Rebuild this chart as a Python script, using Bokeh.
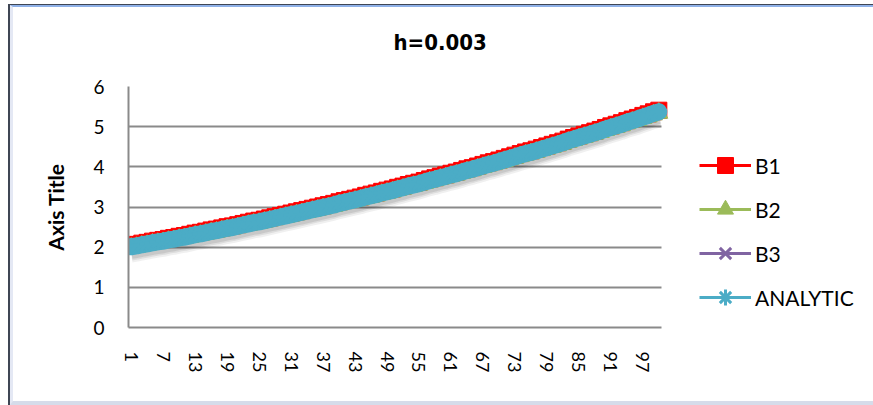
from bokeh.plotting import figure
from bokeh.models import (FixedTicker, Legend, LegendItem, ColumnDataSource,
                          InlineStyleSheet, Title)
from bokeh.transform import dodge
from bokeh.embed import file_html
from bokeh.resources import INLINE

# ---- data -------------------------------------------------------------
steps = list(range(1, 101))

analytic = [
    2.01, 2.03, 2.06, 2.08, 2.11, 2.13, 2.15, 2.18, 2.20, 2.23,
    2.25, 2.28, 2.31, 2.33, 2.36, 2.39, 2.41, 2.44, 2.47, 2.49,
    2.52, 2.55, 2.58, 2.61, 2.63, 2.66, 2.69, 2.72, 2.75, 2.78,
    2.81, 2.84, 2.87, 2.90, 2.93, 2.96, 2.99, 3.02, 3.05, 3.09,
    3.12, 3.15, 3.18, 3.21, 3.25, 3.28, 3.31, 3.35, 3.38, 3.41,
    3.45, 3.48, 3.52, 3.55, 3.58, 3.62, 3.66, 3.69, 3.73, 3.76,
    3.80, 3.83, 3.87, 3.91, 3.94, 3.98, 4.02, 4.06, 4.09, 4.13,
    4.17, 4.21, 4.25, 4.29, 4.33, 4.36, 4.40, 4.44, 4.48, 4.52,
    4.56, 4.60, 4.65, 4.69, 4.73, 4.77, 4.81, 4.85, 4.89, 4.94,
    4.98, 5.02, 5.06, 5.11, 5.15, 5.19, 5.24, 5.28, 5.33, 5.37,
]

b1 = [
    2.05, 2.07, 2.10, 2.12, 2.15, 2.17, 2.19, 2.22, 2.24, 2.27,
    2.29, 2.32, 2.35, 2.37, 2.40, 2.43, 2.45, 2.48, 2.51, 2.53,
    2.56, 2.59, 2.62, 2.65, 2.67, 2.70, 2.73, 2.76, 2.79, 2.82,
    2.85, 2.88, 2.91, 2.94, 2.97, 3.00, 3.03, 3.06, 3.09, 3.13,
    3.16, 3.19, 3.22, 3.25, 3.29, 3.32, 3.35, 3.39, 3.42, 3.45,
    3.49, 3.52, 3.56, 3.59, 3.62, 3.66, 3.70, 3.73, 3.77, 3.80,
    3.84, 3.87, 3.91, 3.95, 3.98, 4.02, 4.06, 4.10, 4.13, 4.17,
    4.21, 4.25, 4.29, 4.33, 4.37, 4.40, 4.44, 4.48, 4.52, 4.56,
    4.60, 4.64, 4.69, 4.73, 4.77, 4.81, 4.85, 4.89, 4.93, 4.98,
    5.02, 5.06, 5.10, 5.15, 5.19, 5.23, 5.28, 5.32, 5.37, 5.41,
]

b2 = [
    1.98, 2.00, 2.03, 2.05, 2.08, 2.10, 2.12, 2.15, 2.17, 2.20,
    2.22, 2.25, 2.28, 2.30, 2.33, 2.36, 2.38, 2.41, 2.44, 2.46,
    2.49, 2.52, 2.55, 2.58, 2.60, 2.63, 2.66, 2.69, 2.72, 2.75,
    2.78, 2.81, 2.84, 2.87, 2.90, 2.93, 2.96, 2.99, 3.02, 3.06,
    3.09, 3.12, 3.15, 3.18, 3.22, 3.25, 3.28, 3.32, 3.35, 3.38,
    3.42, 3.45, 3.49, 3.52, 3.55, 3.59, 3.63, 3.66, 3.70, 3.73,
    3.77, 3.80, 3.84, 3.88, 3.91, 3.95, 3.99, 4.03, 4.06, 4.10,
    4.14, 4.18, 4.22, 4.26, 4.30, 4.33, 4.37, 4.41, 4.45, 4.49,
    4.53, 4.57, 4.62, 4.66, 4.70, 4.74, 4.78, 4.82, 4.86, 4.91,
    4.95, 4.99, 5.03, 5.08, 5.12, 5.16, 5.21, 5.25, 5.30, 5.34,
]

b3 = [
    2.01, 2.03, 2.06, 2.08, 2.11, 2.13, 2.15, 2.18, 2.20, 2.23,
    2.25, 2.28, 2.31, 2.33, 2.36, 2.39, 2.41, 2.44, 2.47, 2.49,
    2.52, 2.55, 2.58, 2.61, 2.63, 2.66, 2.69, 2.72, 2.75, 2.78,
    2.81, 2.84, 2.87, 2.90, 2.93, 2.96, 2.99, 3.02, 3.05, 3.09,
    3.12, 3.15, 3.18, 3.21, 3.25, 3.28, 3.31, 3.35, 3.38, 3.41,
    3.45, 3.48, 3.52, 3.55, 3.58, 3.62, 3.66, 3.69, 3.73, 3.76,
    3.80, 3.83, 3.87, 3.91, 3.94, 3.98, 4.02, 4.06, 4.09, 4.13,
    4.17, 4.21, 4.25, 4.29, 4.33, 4.36, 4.40, 4.44, 4.48, 4.52,
    4.56, 4.60, 4.65, 4.69, 4.73, 4.77, 4.81, 4.85, 4.89, 4.94,
    4.98, 5.02, 5.06, 5.11, 5.15, 5.19, 5.24, 5.28, 5.33, 5.37,
]

x_ticks = list(range(1, 101, 6))
y_ticks = [0, 1, 2, 3, 4, 5, 6]

series_names = ["B1", "B2", "B3", "ANALYTIC"]
chart_title = "h=0.003"
y_title = "Axis Title"

# ---- layout -------------------------------------------------------------
W, H = 873, 405
FRAME_L, FRAME_T, FRAME_B = 128, 86, 327
AXIS_R = 661                       # right end of the category axis
CAT_LO, CAT_HI = 0.5, 100.5        # categories sit between tick marks
# the drawing area runs to the right edge so the legend can live in it
x_end = CAT_LO + (W - FRAME_L) * (CAT_HI - CAT_LO) / (AXIS_R - FRAME_L)

RED, GREEN, PURPLE, TEAL = "#FF0000", "#9BBB59", "#8064A2", "#4BACC6"
GRID = "#8a8a8a"
FONT = "Lato"

p = figure(width=W, height=H, x_range=(CAT_LO, x_end), y_range=(0, 6),
           output_backend="svg", toolbar_location=None,
           min_border_left=FRAME_L, min_border_right=0,
           min_border_top=FRAME_T, min_border_bottom=H - FRAME_B)
p.background_fill_color = "white"
p.border_fill_color = "white"
p.outline_line_color = None

# small gap between the plot area and the title
p.add_layout(Title(text=" ", text_font_size="1px", standoff=3), "above")

# title, left-aligned with an offset so it sits over the chart's middle
p.title.text = chart_title
p.title.align = "left"
p.title.offset = 265
p.title.vertical_align = "middle"
p.title.standoff = 50
p.title.text_font = "DejaVu Sans Condensed"
p.title.text_font_style = "bold"
p.title.text_font_size = "22px"
p.title.text_color = "black"

# axes
p.xaxis.ticker = FixedTicker(ticks=x_ticks)
p.yaxis.ticker = FixedTicker(ticks=y_ticks)
p.xaxis.bounds = (CAT_LO, CAT_HI)
p.xaxis.major_label_orientation = "vertical"
for ax in (p.xaxis, p.yaxis):
    ax.axis_line_color = GRID
    ax.axis_line_width = 2
    ax.major_tick_line_color = None
    ax.minor_tick_line_color = None
    ax.major_tick_out = 0
    ax.major_tick_in = 0
    ax.major_label_text_font = FONT
    ax.major_label_text_color = "black"
p.xaxis.major_label_text_font_size = "18px"
p.xaxis.major_label_standoff = 24
p.yaxis.major_label_text_font_size = "19px"
p.yaxis.major_label_standoff = 24
p.yaxis.axis_label = y_title
p.yaxis.axis_label_text_font = FONT
p.yaxis.axis_label_text_font_style = "bold"
p.yaxis.axis_label_text_font_size = "21px"
p.yaxis.axis_label_text_color = "black"
p.yaxis.axis_label_standoff = 22

p.xgrid.visible = False
# horizontal grid lines only across the category axis
if "cross_bounds" in p.ygrid[0].properties():
    p.ygrid.grid_line_color = GRID
    p.ygrid.grid_line_width = 2
    p.ygrid.cross_bounds = (CAT_LO, CAT_HI)
else:
    p.ygrid.visible = False
    p.segment(x0=CAT_LO, x1=CAT_HI, y0=y_ticks, y1=y_ticks,
              line_color=GRID, line_width=2)

src = ColumnDataSource(dict(x=steps, analytic=analytic, b1=b1, b2=b2, b3=b3))

# soft drop shadow under the bundle of curves
for off, a in ((-0.09, 0.09), (-0.13, 0.08), (-0.18, 0.06)):
    p.line(x="x", y=dodge("analytic", off, range=p.y_range), source=src,
           line_width=17, line_color="black", line_alpha=a, line_join="round")

# B1
l1 = p.line("x", "b1", source=src, line_width=3, line_color=RED)
m1 = p.scatter("x", "b1", source=src, marker="square", size=16,
               fill_color=RED, line_color=RED, line_width=1)
# B2
l2 = p.line("x", "b2", source=src, line_width=3, line_color=GREEN)
m2 = p.scatter("x", "b2", source=src, marker="triangle", size=18,
               fill_color=GREEN, line_color=GREEN, line_width=1)
# B3
l3 = p.line("x", "b3", source=src, line_width=3, line_color=PURPLE)
m3 = p.scatter("x", "b3", source=src, marker="x", size=14,
               line_color=PURPLE, line_width=3)
# ANALYTIC: dense star markers merge into a solid band
p.line("x", "analytic", source=src, line_width=17, line_color=TEAL,
       line_join="round", line_cap="round")
l4 = p.line("x", "analytic", source=src, line_width=3, line_color=TEAL)
m4 = p.scatter("x", "analytic", source=src, marker="asterisk", size=16,
               line_color=TEAL, line_width=3)

legend = Legend(items=[
    LegendItem(label=series_names[0], renderers=[l1, m1]),
    LegendItem(label=series_names[1], renderers=[l2, m2]),
    LegendItem(label=series_names[2], renderers=[l3, m3]),
    LegendItem(label=series_names[3], renderers=[l4, m4]),
], location=(699 - FRAME_L, 10))
legend.border_line_color = None
legend.background_fill_alpha = 0
legend.padding = 0
legend.margin = 0
legend.spacing = 4
legend.glyph_width = 52
legend.glyph_height = 40
legend.label_height = 40
legend.label_standoff = 4
legend.label_text_font = FONT
legend.label_text_font_size = "21px"
legend.label_text_color = "black"
p.add_layout(legend, "center")

# window frame drawn around the chart area
p.stylesheets = [InlineStyleSheet(css="""
:host { position: relative; }
:host::before {
  content: ""; position: absolute; left: 8px; top: 4px; right: 0; bottom: 0;
  border-top: 1px solid #3f4654; border-left: 2px solid #3f4654;
  pointer-events: none; z-index: 5;
}
:host::after {
  content: ""; position: absolute; left: 10px; top: 5px; right: 0; bottom: 0;
  border-top: 2px solid #8fb1e8; border-left: 3px solid #e4e8f4;
  border-bottom: 4px solid #d6dcea;
  pointer-events: none; z-index: 5;
}
""")]

open("out.html", "w").write(file_html(p, INLINE))
